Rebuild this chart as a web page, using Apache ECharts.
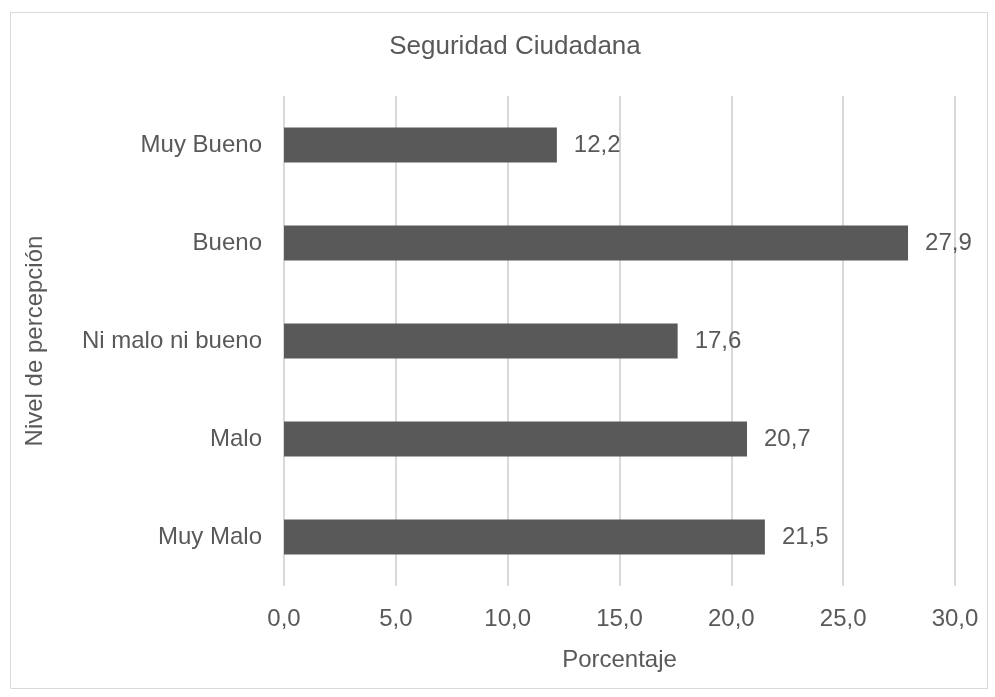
<!DOCTYPE html>
<html><head><meta charset="utf-8">
<script src="https://cdn.jsdelivr.net/npm/echarts@6/dist/echarts.min.js"></script>
<style>html,body{margin:0;padding:0;background:#fff}#c{width:995px;height:697px}</style>
</head><body><div id="c"></div>
<script>
var categories = ['Muy Malo', 'Malo', 'Ni malo ni bueno', 'Bueno', 'Muy Bueno'];
var values = [21.5, 20.7, 17.6, 27.9, 12.2];
var titleText = 'Seguridad Ciudadana';
var xAxisName = 'Porcentaje';
var yAxisName = 'Nivel de percepción';

var FONT = '"Liberation Sans", Arial, sans-serif';
var TXT = '#595959';
var chart = echarts.init(document.getElementById('c'), null, {renderer: 'canvas'});
chart.setOption({
  backgroundColor: '#fff',
  animation: false,
  graphic: [{
    type: 'rect', shape: {x: 10.5, y: 12.5, width: 977, height: 676},
    style: {fill: 'none', stroke: '#d9d9d9', lineWidth: 1}, silent: true, z: -1
  }],
  title: {
    text: titleText, left: 510, top: 29, textAlign: 'center',
    textStyle: {fontFamily: FONT, fontSize: 26, fontWeight: 'normal', color: TXT}
  },
  grid: {left: 284, right: 40, top: 96, bottom: 111, containLabel: false},
  xAxis: {
    type: 'value', min: 0, max: 30, interval: 5,
    name: xAxisName, nameLocation: 'middle', nameGap: 62,
    nameTextStyle: {fontFamily: FONT, fontSize: 24, color: TXT},
    axisLine: {show: false}, axisTick: {show: false},
    axisLabel: {fontFamily: FONT, fontSize: 24, color: TXT, margin: 21,
      formatter: function (v) { return v.toFixed(1).replace('.', ','); }},
    splitLine: {show: true, lineStyle: {color: '#d9d9d9', width: 2}}
  },
  yAxis: {
    type: 'category', data: categories,
    name: yAxisName, nameLocation: 'middle', nameGap: 237, nameRotate: 90,
    nameTextStyle: {fontFamily: FONT, fontSize: 24, color: TXT},
    axisLine: {show: false}, axisTick: {show: false},
    axisLabel: {fontFamily: FONT, fontSize: 24, color: TXT, margin: 22}
  },
  series: [{
    type: 'bar', data: values, barWidth: 35,
    itemStyle: {color: '#595959'},
    label: {show: true, position: 'right', distance: 17,
      fontFamily: FONT, fontSize: 24, color: TXT,
      formatter: function (p) { return p.value.toFixed(1).replace('.', ','); }}
  }]
});
</script></body></html>
